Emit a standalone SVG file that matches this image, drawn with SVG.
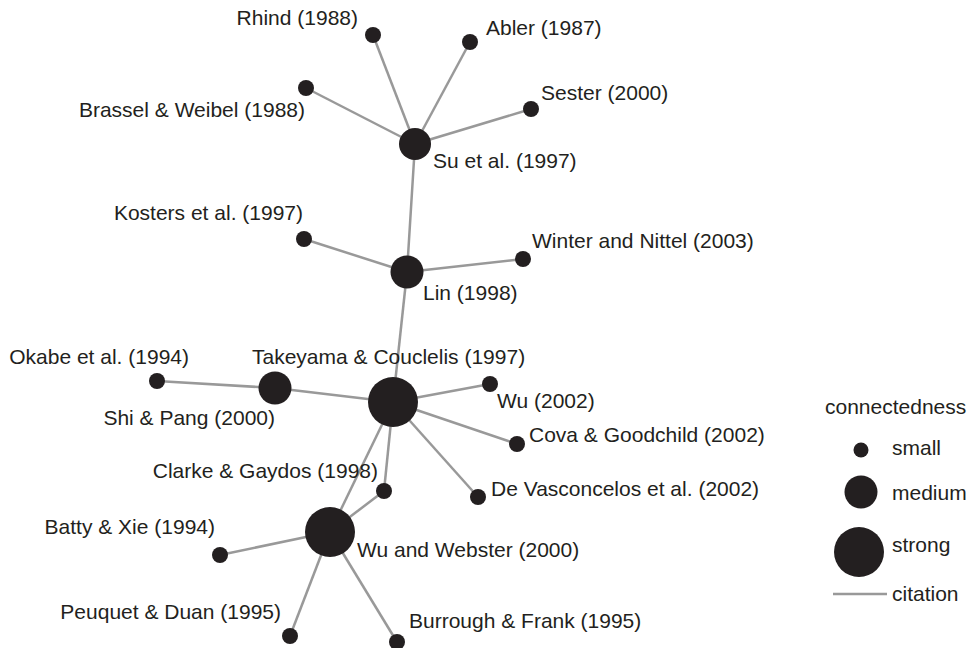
<svg xmlns="http://www.w3.org/2000/svg" width="970" height="648" viewBox="0 0 970 648">
<style>
.n{fill:#231f20}
.e line{stroke:#999;stroke-width:2.5}
text{font-family:"Liberation Sans",Arial,sans-serif;font-size:21px;fill:#231f20}
.r{text-anchor:end}
</style>
<rect width="970" height="648" fill="#fff"/>
<g class="e" id="connectors">
<line x1="415" y1="144" x2="373" y2="35"/>
<line x1="415" y1="144" x2="470" y2="42"/>
<line x1="415" y1="144" x2="306" y2="88"/>
<line x1="415" y1="144" x2="531" y2="109"/>
<line x1="415" y1="144" x2="407" y2="272"/>
<line x1="407" y1="272" x2="304" y2="239"/>
<line x1="407" y1="272" x2="523" y2="259"/>
<line x1="407" y1="272" x2="393" y2="402"/>
<line x1="393" y1="402" x2="275" y2="388"/>
<line x1="275" y1="388" x2="157" y2="381"/>
<line x1="393" y1="402" x2="490" y2="384"/>
<line x1="393" y1="402" x2="517" y2="444"/>
<line x1="393" y1="402" x2="478" y2="497"/>
<line x1="393" y1="402" x2="384" y2="491"/>
<line x1="393" y1="402" x2="330" y2="532"/>
<line x1="384" y1="491" x2="330" y2="532"/>
<line x1="330" y1="532" x2="220" y2="555"/>
<line x1="330" y1="532" x2="290" y2="636"/>
<line x1="330" y1="532" x2="397" y2="642"/>
</g>
<g id="su"><circle class="n" cx="415" cy="144" r="16"/><text x="433" y="168">Su et al. (1997)</text></g>
<g id="rhind"><circle class="n" cx="373" cy="35" r="8"/><text class="r" x="358" y="25">Rhind (1988)</text></g>
<g id="abler"><circle class="n" cx="470" cy="42" r="8"/><text x="486" y="35">Abler (1987)</text></g>
<g id="brassel"><circle class="n" cx="306" cy="88" r="8"/><text class="r" x="305" y="117">Brassel &amp; Weibel (1988)</text></g>
<g id="sester"><circle class="n" cx="531" cy="109" r="8"/><text x="541" y="100">Sester (2000)</text></g>
<g id="lin"><circle class="n" cx="407" cy="272" r="16.5"/><text x="423" y="300">Lin (1998)</text></g>
<g id="kosters"><circle class="n" cx="304" cy="239" r="8"/><text class="r" x="303" y="220">Kosters et al. (1997)</text></g>
<g id="winter"><circle class="n" cx="523" cy="259" r="8"/><text x="532" y="248">Winter and Nittel (2003)</text></g>
<g id="takeyama"><circle class="n" cx="393" cy="402" r="25"/><text x="252" y="364">Takeyama &amp; Couclelis (1997)</text></g>
<g id="shi"><circle class="n" cx="275" cy="388" r="16.5"/><text class="r" x="275" y="425">Shi &amp; Pang (2000)</text></g>
<g id="okabe"><circle class="n" cx="157" cy="381" r="8"/><text class="r" x="189" y="364">Okabe et al. (1994)</text></g>
<g id="wu2002"><circle class="n" cx="490" cy="384" r="8"/><text x="497" y="408">Wu (2002)</text></g>
<g id="cova"><circle class="n" cx="517" cy="444" r="8"/><text x="529" y="442">Cova &amp; Goodchild (2002)</text></g>
<g id="devasconcelos"><circle class="n" cx="478" cy="497" r="8"/><text x="491" y="496">De Vasconcelos et al. (2002)</text></g>
<g id="clarke"><circle class="n" cx="384" cy="491" r="8"/><text class="r" x="378" y="478">Clarke &amp; Gaydos (1998)</text></g>
<g id="wuwebster"><circle class="n" cx="330" cy="532" r="25"/><text x="357" y="557">Wu and Webster (2000)</text></g>
<g id="batty"><circle class="n" cx="220" cy="555" r="8"/><text class="r" x="215" y="534">Batty &amp; Xie (1994)</text></g>
<g id="peuquet"><circle class="n" cx="290" cy="636" r="8"/><text class="r" x="281" y="619">Peuquet &amp; Duan (1995)</text></g>
<g id="burrough"><circle class="n" cx="397" cy="642" r="8"/><text x="409" y="628">Burrough &amp; Frank (1995)</text></g>
<g id="legend">
<text x="825" y="414">connectedness</text>
<circle class="n" cx="861" cy="450" r="7.5"/><text x="892" y="455">small</text>
<circle class="n" cx="861" cy="492" r="16.5"/><text x="892" y="500">medium</text>
<circle class="n" cx="859" cy="552" r="25"/><text x="892" y="552">strong</text>
<line x1="833" y1="594" x2="887" y2="594" stroke="#999" stroke-width="2.5"/><text x="892" y="601">citation</text>
</g>
</svg>
